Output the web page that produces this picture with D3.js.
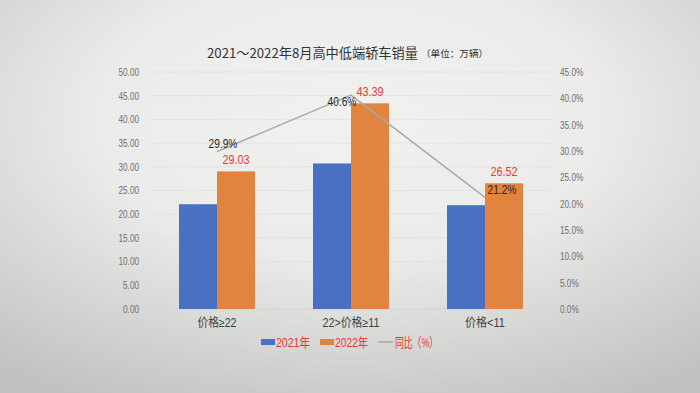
<!DOCTYPE html>
<html><head><meta charset="utf-8">
<script src="https://cdn.jsdelivr.net/npm/d3@7"></script>
<style>html,body{margin:0;padding:0;width:700px;height:393px;overflow:hidden;}</style>
</head><body>
<svg id="c" width="700" height="393"></svg>
<script>
const categories = ["价格≥22", "22>价格≥11", "价格<11"];
const sales2021 = [22.1, 30.7, 21.9];
const sales2022 = [29.03, 43.39, 26.52];
const yoy = [29.9, 40.6, 21.2];
const leftTicks = [0,5,10,15,20,25,30,35,40,45,50];
const rightTicks = [0,5,10,15,20,25,30,35,40,45];
const seriesNames = ["2021年", "2022年", "同比（%）"];

const svg = d3.select("#c");
const defs = svg.append("defs");
const g1 = defs.append("radialGradient").attr("id","bg").attr("cx","50%").attr("cy","30%").attr("r","80%");
g1.append("stop").attr("offset","0%").attr("stop-color","#f1f1ef");
g1.append("stop").attr("offset","45%").attr("stop-color","#ebebe9");
g1.append("stop").attr("offset","100%").attr("stop-color","#c2c2c2");
svg.append("rect").attr("width",700).attr("height",393).attr("fill","url(#bg)");

const font = "'Liberation Sans','Noto Sans CJK SC',sans-serif";
const cjk = "'Noto Sans CJK SC','Liberation Sans',sans-serif";
function condense(sel, f){
  sel.each(function(){
    const w = this.getComputedTextLength();
    d3.select(this).attr("textLength", w*f).attr("lengthAdjust","spacingAndGlyphs");
  });
}
function fit(sel, w){ sel.attr("textLength", w).attr("lengthAdjust","spacingAndGlyphs"); }

const pLeft = 150, pRight = 552, pTop = 72, pBottom = 309;
const x = d3.scaleBand().domain(categories).range([pLeft,pRight]).paddingInner(0).paddingOuter(0);
const yL = d3.scaleLinear().domain([0,50]).range([pBottom,pTop]);
const yR = d3.scaleLinear().domain([0,45]).range([pBottom,pTop]);
const barW = 38;

// gridlines
svg.append("g").selectAll("line").data(leftTicks).join("line")
  .attr("x1",pLeft).attr("x2",pRight).attr("y1",d=>yL(d)).attr("y2",d=>yL(d))
  .attr("stroke",d=>d===0?"#d4d4d4":"#e2e2e2").attr("stroke-width",1);

// left axis
const axL = d3.axisLeft(yL).tickValues(leftTicks).tickFormat(d=>d.toFixed(2)).tickSize(0).tickPadding(0);
const gL = svg.append("g").attr("transform",`translate(139,0)`).call(axL);
gL.select(".domain").remove();
gL.selectAll("text").attr("font-family",font).attr("font-size",10.5).attr("fill","#707070").attr("text-anchor","end");
condense(gL.selectAll("text"), 0.78);

// right axis
const axR = d3.axisRight(yR).tickValues(rightTicks).tickFormat(d=>d.toFixed(1)+"%").tickSize(0).tickPadding(0);
const gR = svg.append("g").attr("transform",`translate(560,0)`).call(axR);
gR.select(".domain").remove();
gR.selectAll("text").attr("font-family",font).attr("font-size",10.5).attr("fill","#707070");
condense(gR.selectAll("text"), 0.78);

// bars
const cx = d => x(d) + x.bandwidth()/2;
svg.append("g").selectAll("rect").data(categories).join("rect")
  .attr("x",d=>cx(d)-barW).attr("width",barW)
  .attr("y",(d,i)=>yL(sales2021[i])).attr("height",(d,i)=>pBottom-yL(sales2021[i]))
  .attr("fill","#4a71c1");
svg.append("g").selectAll("rect").data(categories).join("rect")
  .attr("x",d=>cx(d)).attr("width",barW)
  .attr("y",(d,i)=>yL(sales2022[i])).attr("height",(d,i)=>pBottom-yL(sales2022[i]))
  .attr("fill","#e0843f");

// bar labels
const bl = svg.append("g").selectAll("text").data(categories).join("text")
  .attr("x",d=>cx(d)+barW/2).attr("y",(d,i)=>yL(sales2022[i])-7)
  .attr("text-anchor","middle").attr("font-family",font).attr("font-size",13.5)
  .attr("fill","#e8392e").text((d,i)=>sales2022[i].toFixed(2));
condense(bl, 0.8);

// line
const line = d3.line().x((d,i)=>cx(categories[i])).y(d=>yR(d));
svg.append("path").datum(yoy).attr("d",line).attr("fill","none").attr("stroke","#a9a9a9").attr("stroke-width",1.5);

// line labels (manual offsets as in original)
const lblDx = [6, -9, 17], lblDy = [-4, 11, -3];
const ll = svg.append("g").selectAll("text").data(yoy).join("text")
  .attr("x",(d,i)=>cx(categories[i])+lblDx[i]).attr("y",(d,i)=>yR(d)+lblDy[i])
  .attr("text-anchor","middle").attr("font-family",font).attr("font-size",13)
  .attr("fill","#262626").text(d=>d.toFixed(1)+"%");
condense(ll, 0.78);

// category labels
const catW = [39, 57, 40];
svg.append("g").selectAll("text").data(categories).join("text")
  .attr("x",d=>cx(d)).attr("y",327).attr("text-anchor","middle")
  .attr("font-family",font).attr("font-size",12.5).attr("fill","#404040").text(d=>d)
  .attr("textLength",(d,i)=>catW[i]).attr("lengthAdjust","spacingAndGlyphs");

// title
svg.append("text").attr("x",207).attr("y",58).attr("font-family",cjk).attr("fill","#333")
  .attr("font-size",13.2).text("2021～2022年8月高中低端轿车销量");
svg.append("text").attr("x",421).attr("y",57).attr("font-family",cjk).attr("fill","#333")
  .attr("font-size",9.6).text("（单位：万辆）");

// legend
const lg = svg.append("g");
lg.append("rect").attr("x",261).attr("y",339).attr("width",14).attr("height",6).attr("fill","#4a71c1");
lg.append("text").attr("x",276).attr("y",346.5).attr("font-family",font).attr("font-size",13).attr("fill","#e8392e").text(seriesNames[0]).call(fit,34);
lg.append("rect").attr("x",320).attr("y",339).attr("width",14).attr("height",6).attr("fill","#e0843f");
lg.append("text").attr("x",335).attr("y",346.5).attr("font-family",font).attr("font-size",13).attr("fill","#e8392e").text(seriesNames[1]).call(fit,33);
lg.append("line").attr("x1",378).attr("x2",393).attr("y1",342).attr("y2",342).attr("stroke","#a9a9a9").attr("stroke-width",1.5);
lg.append("text").attr("x",395).attr("y",346.5).attr("font-family",font).attr("font-size",13).attr("fill","#e8392e").text(seriesNames[2]).call(fit,43);
</script>
</body></html>
